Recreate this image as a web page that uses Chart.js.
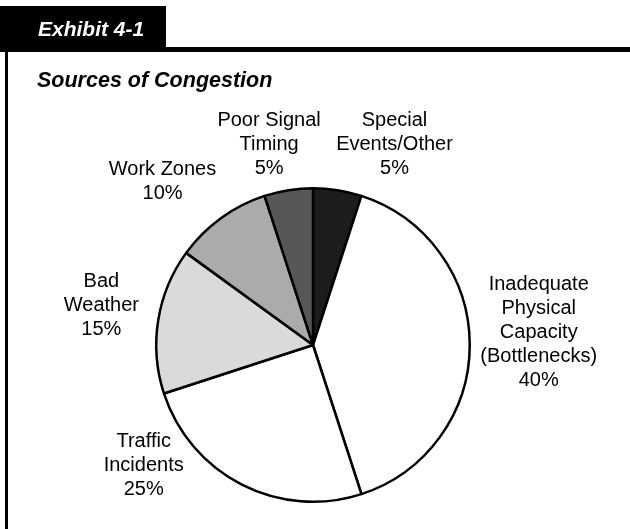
<!DOCTYPE html>
<html>
<head>
<meta charset="utf-8">
<script src="https://cdn.jsdelivr.net/npm/chart.js@4.4.1/dist/chart.umd.min.js"></script>
<style>
  html, body { margin: 0; padding: 0; background: #fff; }
  #wrap { position: relative; width: 630px; height: 529px; }
</style>
</head>
<body>
<div id="wrap"><canvas id="congestionChart" width="630" height="529"></canvas></div>
<script>
// clockwise from 12 o'clock
const categories = [
    ['Special', 'Events/Other'],
    ['Inadequate', 'Physical', 'Capacity', '(Bottlenecks)'],
    ['Traffic', 'Incidents'],
    ['Bad', 'Weather'],
    ['Work Zones'],
    ['Poor Signal', 'Timing']
];
const shares = [5, 40, 25, 15, 10, 5];
const sliceColors = ['#1c1c1c', '#ffffff', '#ffffff', '#dadada', '#ababab', '#575757'];

// where each label sits, relative to the pie centre in radius units
const labelSpots = [[0.52, -1.28], [1.44, -0.08], [-1.08, 0.77], [-1.35, -0.25], [-0.96, -1.04], [-0.28, -1.28]];

const framePlugin = {
    id: 'frame',
    beforeDraw(chart) {
        const c = chart.ctx;
        c.save();
        c.fillStyle = '#000';
        c.fillRect(0, 6, 166, 46);
        c.fillRect(166, 47, 464, 5);
        c.fillRect(5, 50, 3, 479);
        c.fillStyle = '#fff';
        c.font = 'italic bold 21px "Liberation Sans", Arial, sans-serif';
        c.textBaseline = 'alphabetic';
        c.fillText('Exhibit 4-1', 38, 36);
        c.fillStyle = '#000';
        c.font = 'italic bold 21.5px "Liberation Sans", Arial, sans-serif';
        c.fillText('Sources of Congestion', 37, 87);
        c.restore();
    }
};

const labelPlugin = {
    id: 'sliceLabels',
    afterDraw(chart) {
        const c = chart.ctx;
        const arcs = chart.getDatasetMeta(0).data;
        c.save();
        c.fillStyle = '#000';
        c.font = '20px "Liberation Sans", Arial, sans-serif';
        c.textAlign = 'center';
        c.textBaseline = 'middle';
        arcs.forEach(function (arc, i) {
            const r = arc.outerRadius;
            const cx = arc.x + labelSpots[i][0] * r;
            const cy = arc.y + labelSpots[i][1] * r;
            const lines = categories[i].concat([shares[i] + '%']);
            const lh = 24;
            const top = cy - (lines.length - 1) * lh / 2;
            lines.forEach(function (t, k) {
                c.fillText(t, cx, top + k * lh);
            });
        });
        c.restore();
    }
};

const ctx = document.getElementById('congestionChart').getContext('2d');
const congestionChart = new Chart(ctx, {
    type: 'pie',
    data: {
        labels: categories.map(l => l.join(' ')),
        datasets: [{
            data: shares,
            backgroundColor: sliceColors,
            borderColor: '#000',
            borderWidth: 2.5
        }]
    },
    options: {
        responsive: false,
        animation: false,
        layout: { padding: { left: 155, right: 159, top: 187, bottom: 26 } },
        plugins: {
            legend: { display: false },
            tooltip: { enabled: false }
        }
    },
    plugins: [framePlugin, labelPlugin]
});
</script>
</body>
</html>
